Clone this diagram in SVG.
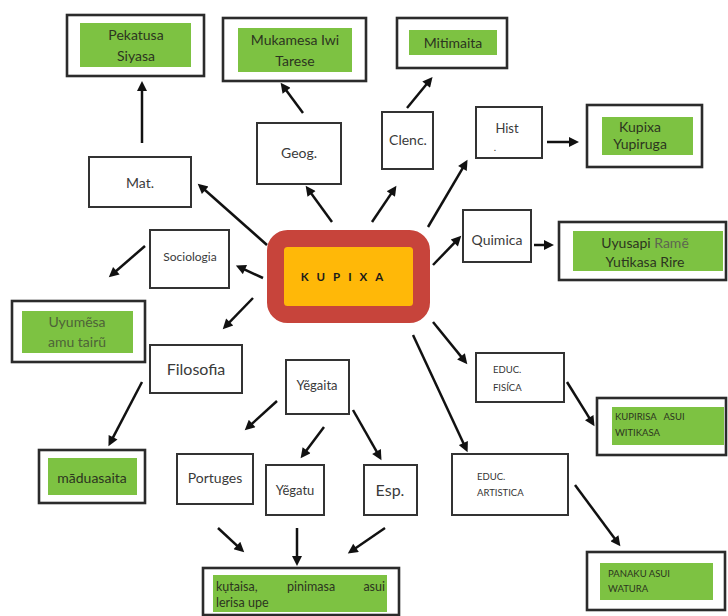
<svg xmlns="http://www.w3.org/2000/svg" width="728" height="616" viewBox="0 0 728 616">
<defs>
<marker id="ah" viewBox="0 0 10 10" refX="6" refY="5" markerWidth="5" markerHeight="4" orient="auto" markerUnits="strokeWidth">
<path d="M0,0 L10,5 L0,10 z" fill="#111"/>
</marker>
<style>
.box{fill:#fff;stroke:#333;stroke-width:2}
.obox{fill:#fff;stroke:#2b2b2b;stroke-width:2.6}
.g{fill:#7dc242}
.t{font-family:Lato,"Open Sans","Liberation Sans",sans-serif;fill:#3a3a3a;text-anchor:middle}
.gt{font-family:Lato,"Open Sans","Liberation Sans",sans-serif;fill:#2c3520;text-anchor:middle;font-size:14px}
.gl{font-family:Lato,"Open Sans","Liberation Sans",sans-serif;fill:#2c3520;font-size:12.5px}
.s{font-family:Lato,"Open Sans","Liberation Sans",sans-serif;fill:#333;font-size:9.5px}
.c line{stroke:#111;stroke-width:2.5;marker-end:url(#ah)}
</style>
</defs>
<rect width="728" height="616" fill="#fff"/>

<g id="center">
<rect x="275.5" y="238.5" width="146" height="76" rx="12" fill="#ffb808" stroke="#c7443b" stroke-width="17"/>
<text x="346" y="281" font-family="Lato,'Liberation Sans',sans-serif" font-weight="bold" font-size="11.5" fill="#1a1a1a" text-anchor="middle" letter-spacing="8">KUPIXA</text>
</g>

<g id="pekatusa">
<rect class="obox" x="67" y="15" width="137" height="61"/>
<rect class="g" x="80" y="23" width="111" height="44"/>
<text class="gt" x="136" y="40">Pekatusa</text>
<text class="gt" x="136" y="61">Siyasa</text>
</g>
<g id="mat">
<rect class="box" x="89" y="157" width="102" height="50"/>
<text class="t" x="140" y="188" font-size="14">Mat.</text>
</g>

<g id="mukamesa">
<rect class="obox" x="223" y="18" width="143" height="63"/>
<rect class="g" x="238" y="28" width="114" height="44"/>
<text class="gt" x="295" y="45">Mukamesa Iwi</text>
<text class="gt" x="295" y="66">Tarese</text>
</g>
<g id="geog">
<rect class="box" x="257" y="123" width="84" height="61"/>
<text class="t" x="299" y="158" font-size="14">Geog.</text>
</g>

<g id="mitimaita">
<rect class="obox" x="397" y="18" width="110" height="50"/>
<rect class="g" x="409" y="30" width="88" height="25"/>
<text class="gt" x="453" y="48">Mitimaita</text>
</g>
<g id="clenc">
<rect class="box" x="382" y="112" width="51" height="57"/>
<text class="t" x="408" y="145" font-size="14">Clenc.</text>
</g>

<g id="hist">
<rect class="box" x="476" y="107" width="66" height="51"/>
<text class="t" x="507" y="133" font-size="13">Hist</text>
<text class="t" x="495" y="151" font-size="10">.</text>
</g>
<g id="kupixa-yupiruga">
<rect class="obox" x="587" y="105" width="115" height="62"/>
<rect class="g" x="602" y="117" width="91" height="38"/>
<text class="gt" x="640" y="132" font-size="13">Kupixa</text>
<text class="gt" x="640" y="149" font-size="13">Yupiruga</text>
</g>

<g id="quimica">
<rect class="box" x="463" y="210" width="68" height="52"/>
<text class="t" x="497" y="245" font-size="14">Quimica</text>
</g>
<g id="uyusapi">
<rect class="obox" x="559" y="222" width="167" height="58"/>
<rect class="g" x="573" y="231" width="150" height="40"/>
<text class="gt" x="645" y="248" font-size="13.5">Uyusapi <tspan fill="#5d6650">Ramẽ</tspan></text>
<text class="gt" x="645" y="267" font-size="13.5">Yutikasa Rire</text>
</g>

<g id="sociologia">
<rect class="box" x="150" y="230" width="79" height="58"/>
<text class="t" x="190" y="261" font-size="12">Sociologia</text>
</g>
<g id="uyumesa">
<rect class="obox" x="12" y="301" width="133" height="61"/>
<rect class="g" x="22" y="311" width="111" height="42"/>
<text class="gt" x="77" y="327" style="fill:#4d6238">Uyumẽsa</text>
<text class="gt" x="77" y="347" style="fill:#4d6238">amu tairũ</text>
</g>

<g id="filosofia">
<rect class="box" x="150" y="345" width="92" height="48"/>
<text class="t" x="196" y="375" font-size="16">Filosofia</text>
</g>
<g id="maduasaita">
<rect class="obox" x="39" y="450" width="106" height="53"/>
<rect class="g" x="48" y="458" width="89" height="37"/>
<text class="gt" x="92" y="483">māduasaita</text>
</g>

<g id="yegaita">
<rect class="box" x="286" y="360" width="63" height="54"/>
<text class="t" x="317" y="390" font-size="13">Yẽgaita</text>
</g>
<g id="portuges">
<rect class="box" x="177" y="454" width="76" height="50"/>
<text class="t" x="215" y="483" font-size="14">Portuges</text>
</g>
<g id="yegatu">
<rect class="box" x="266" y="465" width="58" height="50"/>
<text class="t" x="295" y="495" font-size="13">Yẽgatu</text>
</g>
<g id="esp">
<rect class="box" x="364" y="465" width="53" height="50"/>
<text class="t" x="390" y="496" font-size="16">Esp.</text>
</g>

<g id="kutaisa">
<rect class="obox" x="203" y="568" width="196" height="47"/>
<rect class="g" x="213" y="575" width="174" height="37"/>
<text class="gl" x="216" y="591">kụtaisa,</text>
<text class="gl" x="287" y="591">pinimasa</text>
<text class="gl" x="385" y="591" style="text-anchor:end">asui</text>
<text class="gl" x="216" y="607">lerisa upe</text>
</g>

<g id="educ-fisica">
<rect class="box" x="476" y="353" width="88" height="49"/>
<text class="s" x="493" y="373">EDUC.</text>
<text class="s" x="493" y="391">FISÍCA</text>
</g>
<g id="kupirisa">
<rect class="obox" x="597" y="398" width="129" height="57"/>
<rect class="g" x="612" y="407" width="112" height="38"/>
<text class="s" x="615" y="420" style="fill:#2c3520" xml:space="preserve">KUPIRISA   ASUI</text>
<text class="s" x="615" y="436" style="fill:#2c3520">WITIKASA</text>
</g>

<g id="educ-artistica">
<rect class="box" x="452" y="454" width="116" height="61"/>
<text class="s" x="477" y="480">EDUC.</text>
<text class="s" x="477" y="496">ARTISTICA</text>
</g>
<g id="panaku">
<rect class="obox" x="587" y="552" width="138" height="58"/>
<rect class="g" x="600" y="563" width="113" height="37"/>
<text class="s" x="608" y="577" style="fill:#2c3520">PANAKU ASUI</text>
<text class="s" x="608" y="592" style="fill:#2c3520">WATURA</text>
</g>

<g id="connectors" class="c">
<line x1="142" y1="143" x2="142" y2="85"/>
<line x1="267" y1="245" x2="200.7" y2="186.3"/>
<line x1="303" y1="113" x2="283" y2="86"/>
<line x1="332" y1="222" x2="308" y2="189"/>
<line x1="407" y1="108" x2="430" y2="80"/>
<line x1="372" y1="222" x2="394.2" y2="189.1"/>
<line x1="428" y1="227" x2="465.5" y2="163.3"/>
<line x1="547" y1="142" x2="575" y2="142"/>
<line x1="433" y1="265" x2="458.5" y2="238.6"/>
<line x1="534" y1="245" x2="550" y2="245"/>
<line x1="263" y1="278" x2="239.5" y2="267.1"/>
<line x1="145" y1="246" x2="111.8" y2="274.7"/>
<line x1="253" y1="298" x2="225.5" y2="326.4"/>
<line x1="142" y1="382" x2="110.3" y2="442.6"/>
<line x1="277" y1="401" x2="247.7" y2="427.6"/>
<line x1="324" y1="427" x2="303" y2="455"/>
<line x1="353" y1="410" x2="379.5" y2="456.7"/>
<line x1="218" y1="528" x2="241.3" y2="549.6"/>
<line x1="297" y1="528" x2="297" y2="562"/>
<line x1="385" y1="528" x2="351.1" y2="551.2"/>
<line x1="433" y1="322" x2="464.8" y2="361.1"/>
<line x1="413" y1="335" x2="465.9" y2="448.5"/>
<line x1="567" y1="382" x2="592.4" y2="422.8"/>
<line x1="575" y1="485" x2="618" y2="543"/>
</g>
</svg>
